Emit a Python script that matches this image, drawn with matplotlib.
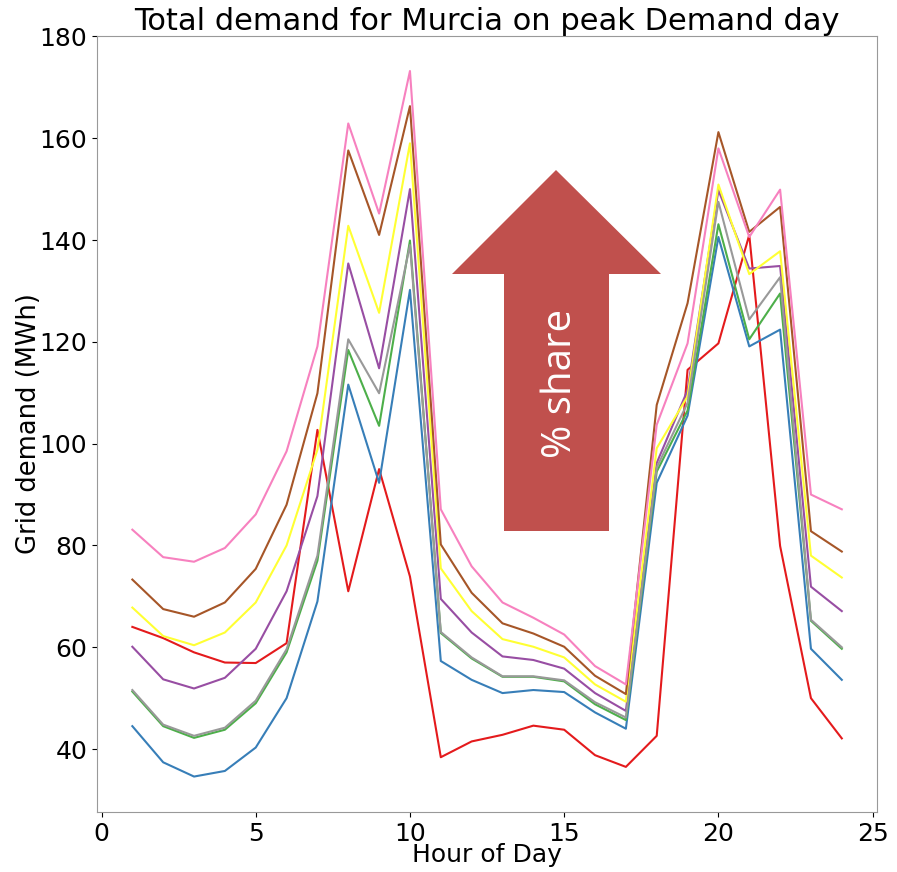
import matplotlib
matplotlib.use("Agg")
import matplotlib.pyplot as plt
from matplotlib.patches import Polygon

hours = list(range(1, 25))

red = [64.0, 61.8, 59.0, 57.0, 56.9, 60.8, 102.7, 71.0, 95.0, 73.9, 38.4, 41.5,
       42.8, 44.6, 43.8, 38.8, 36.5, 42.6, 114.5, 119.7, 141.0, 79.9, 50.0, 42.1]
blue = [44.5, 37.4, 34.6, 35.7, 40.3, 50.0, 69.0, 111.6, 92.3, 130.2, 57.3, 53.6,
        51.0, 51.6, 51.2, 47.2, 44.0, 92.3, 105.5, 140.6, 119.1, 122.4, 59.7, 53.6]
green = [51.3, 44.5, 42.2, 43.8, 49.0, 59.0, 77.0, 118.4, 103.5, 139.9, 62.8, 57.8,
         54.2, 54.2, 53.3, 48.8, 45.7, 94.5, 106.5, 143.1, 120.5, 129.5, 65.2, 59.7]
purple = [60.1, 53.7, 51.9, 54.0, 59.7, 71.0, 89.7, 135.4, 114.8, 150.0, 69.5, 62.9,
          58.2, 57.5, 55.8, 51.0, 47.5, 96.2, 110.5, 149.8, 134.4, 134.9, 71.9, 67.1]
yellow = [67.8, 62.2, 60.4, 62.9, 68.8, 80.0, 98.8, 142.8, 125.7, 159.0, 75.5, 67.1,
          61.6, 60.1, 58.0, 52.7, 49.3, 99.1, 109.3, 150.9, 133.3, 137.8, 78.0, 73.7]
brown = [73.3, 67.5, 66.0, 68.8, 75.4, 88.0, 109.9, 157.6, 141.0, 166.3, 80.2, 70.7,
         64.7, 62.7, 60.1, 54.4, 50.8, 107.6, 127.6, 161.2, 141.6, 146.5, 82.8, 78.8]
pink = [83.1, 77.7, 76.8, 79.5, 86.1, 98.5, 119.1, 162.9, 145.2, 173.2, 87.1, 75.9,
        68.8, 65.8, 62.5, 56.3, 52.7, 103.7, 119.7, 158.0, 140.6, 149.9, 90.0, 87.1]
grey = [51.6, 44.8, 42.6, 44.2, 49.5, 59.6, 78.0, 120.5, 109.9, 139.0, 63.0, 58.0,
        54.3, 54.3, 53.5, 49.2, 46.2, 95.3, 108.0, 147.5, 124.4, 132.7, 65.4, 60.0]

series = [red, blue, green, purple, yellow, brown, pink, grey]
colors = ["#e41a1c", "#377eb8", "#4daf4a", "#984ea3", "#ffff33",
          "#a65628", "#f781bf", "#999999"]

fig = plt.figure(figsize=(8.97, 8.72), dpi=100)
ax = fig.add_axes([0.108, 0.069, 0.870, 0.890])

for vals, c in zip(series, colors):
    ax.plot(hours, vals, color=c, lw=1.5)

ax.set_title("Total demand for Murcia on peak Demand day", fontsize=22, pad=2)
ax.set_xlabel("Hour of Day", fontsize=18, labelpad=-2)
ax.set_ylabel("Grid demand (MWh)", fontsize=18.5, labelpad=-2)
ax.tick_params(labelsize=18)
ax.set_xticks([0, 5, 10, 15, 20, 25])
for s in ax.spines.values():
    s.set_color("#999999")

# arrow annotation in pixel-fraction coordinates of the figure
W, H = 897.0, 872.0
pts = [(504, 531), (504, 274), (452, 274), (556, 170), (661, 274), (609, 274), (609, 531)]
poly = Polygon([(x / W, 1 - y / H) for x, y in pts], closed=True,
               transform=fig.transFigure, facecolor="#c0504d", edgecolor="none", zorder=5)
fig.patches.append(poly)
fig.text(561 / W, 1 - 383 / H, "% share", rotation=90, color="white",
         fontsize=29, family="Open Sans", ha="center", va="center", zorder=6)

fig.savefig("out.png", dpi=100)
